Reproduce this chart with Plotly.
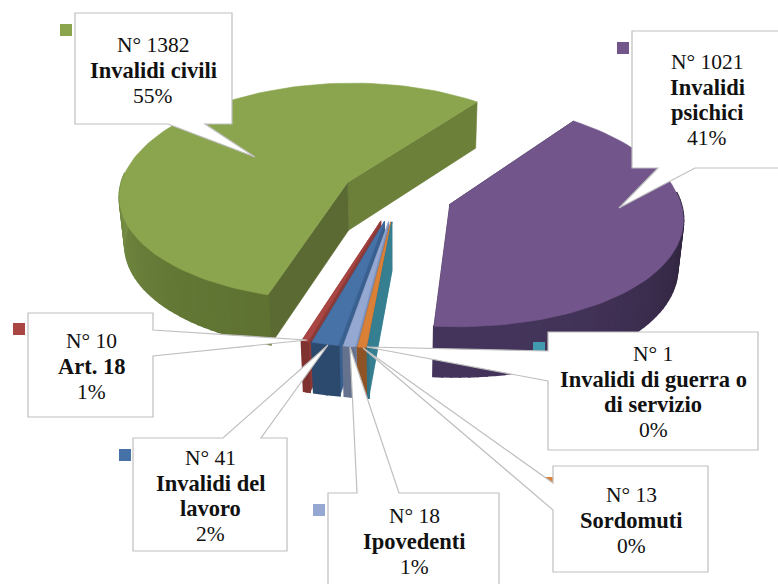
import math
import plotly.graph_objects as go

# data, in slice order (clockwise)
labels = ['Invalidi civili', 'Invalidi psichici', 'Invalidi di guerra o di servizio',
          'Sordomuti', 'Ipovedenti', 'Invalidi del lavoro', 'Art. 18']
counts = [1382, 1021, 1, 13, 18, 41, 10]
percents = ['55%', '41%', '0%', '0%', '1%', '2%', '1%']

# colours per slice: top, start side, end side, arc at the front, arc at the sides
top_colors = ['#8BA54E', '#72568B', '#338097', '#DA8137', '#94A8D2', '#4672A8', '#A94543']
start_colors = ['#5A6A32', '#2E2339', '#367F90', '#B56A2C', '#7C8FB9', '#3A6090', '#8C3A38']
end_colors = ['#6C8039', '#2E2339', '#367F90', '#8E5426', '#636F8B', '#2E4B6F', '#7E3230']
arc_light = ['#5E7131', '#45355C', '#2F7384', '#8E5426', '#66738F', '#2C4A6E', '#803331']
arc_dark = ['#748C44', '#2C2238', '#2F7384', '#8E5426', '#636F8B', '#2E4D72', '#7E3230']
key_colors = ['#8BA54E', '#72568B', '#419AB0', '#DA8137', '#94A8D2', '#4672A8', '#A94543']

# pie projection
FIRST_ANGLE = 197.0
CX, CY = 397, 194.5
A, B, P, PX = 229, 110, 0.0876, 0.112
EXPLODE = 0.245
DEPTH = 48
BOTTOM_SCALE = 0.98


def project(ax, ay, angle, r=1.0, scale=1.0, z=0):
    # ax, ay is the exploded apex, angle is clockwise from the back of the pie
    x = (ax + r * math.sin(math.radians(angle))) * scale
    y = (ay + r * math.cos(math.radians(angle))) * scale
    k = 1 / (1 + P * y)
    return CX + A * x / (1 + PX * y), CY - B * y * k + z * k


def mix(c1, c2, t):
    a = [int(c1[i:i + 2], 16) for i in (1, 3, 5)]
    b = [int(c2[i:i + 2], 16) for i in (1, 3, 5)]
    return 'rgb(%d,%d,%d)' % tuple(a[i] + (b[i] - a[i]) * t for i in range(3))


fig = go.Figure()


def poly(points, color, width=0.6):
    xs = [p[0] for p in points]
    ys = [p[1] for p in points]
    fig.add_trace(go.Scatter(x=xs + xs[:1], y=ys + ys[:1], mode='lines', fill='toself', fillcolor=color,
                             line=dict(color=color, width=width), hoverinfo='skip', showlegend=False))


def draw_slice(i, a0, a1):
    mid = (a0 + a1) / 2
    ax = EXPLODE * math.sin(math.radians(mid))
    ay = EXPLODE * math.cos(math.radians(mid))
    steps = max(2, int((a1 - a0) / 2))
    angles = [a0 + (a1 - a0) * s / steps for s in range(steps + 1)]

    for ang, col in ((a1, end_colors[i]), (a0, start_colors[i])):
        poly([project(ax, ay, ang, 0), project(ax, ay, ang),
              project(ax, ay, ang, scale=BOTTOM_SCALE, z=DEPTH), project(ax, ay, ang, 0, BOTTOM_SCALE, DEPTH)], col)

    for s in range(steps):
        c = math.cos(math.radians((angles[s] + angles[s + 1]) / 2))
        if c > 0.1:
            continue
        poly([project(ax, ay, angles[s]), project(ax, ay, angles[s + 1]),
              project(ax, ay, angles[s + 1], scale=BOTTOM_SCALE, z=DEPTH),
              project(ax, ay, angles[s], scale=BOTTOM_SCALE, z=DEPTH)],
             mix(arc_light[i], arc_dark[i], min(1, (c + 1) / 1.0)), width=2)

    poly([project(ax, ay, a0, 0)] + [project(ax, ay, a) for a in angles], top_colors[i])


total = sum(counts)
spans = []
angle = FIRST_ANGLE
for v in counts:
    spans.append((angle, angle + v / total * 360))
    angle += v / total * 360

# painter order: the two big slices, then the thin ones from left to right
for i in [0, 1, 6, 5, 4, 3, 2]:
    draw_slice(i, *spans[i])

BORDER = '#BFBFBF'

# callout boxes: x0, y0, x1, y1, pointer outline inserted on the box edge, text centre, first line y
boxes = [
    dict(i=0, box=(75, 13, 232, 124), side='bottom', ptr=[(205, 124), (255, 157), (168, 124)], tx=153, ty=45, lines=['Invalidi civili'], key=(60, 24)),
    dict(i=1, box=(632, 31, 790, 168), side='bottom', ptr=[(695, 168), (619, 208), (658, 168)], tx=707, ty=62, lines=['Invalidi', 'psichici'], key=(617, 42)),
    dict(i=2, box=(548, 332, 758, 450), side='left', ptr=[(548, 381), (367, 347), (548, 351)], tx=653, ty=354, lines=['Invalidi di guerra o', 'di servizio'], key=(533, 342)),
    dict(i=3, box=(553, 466, 708, 572), side='left', ptr=[(553, 510), (363, 348), (553, 483)], tx=631, ty=495, lines=['Sordomuti'], key=(545, 477)),
    dict(i=4, box=(328, 493, 499, 600), side='top', ptr=[(357, 493), (350, 347), (399, 493)], tx=414, ty=516, lines=['Ipovedenti'], key=(313, 504)),
    dict(i=5, box=(133, 438, 287, 551), side='top', ptr=[(223, 438), (328, 345), (261, 438)], tx=210, ty=458, lines=['Invalidi del', 'lavoro'], key=(119, 449)),
    dict(i=6, box=(28, 313, 153, 417), side='right', ptr=[(153, 330), (307, 340), (153, 356)], tx=91, ty=341, lines=['Art. 18'], key=(13, 323)),
]

FONT = 'Liberation Serif'
PITCH = 25.4
shapes = []
annotations = []


def line_text(x, y, text, size):
    annotations.append(dict(x=x, y=y, xref='x', yref='y', text=text, showarrow=False,
                            xanchor='center', yanchor='middle',
                            font=dict(family=FONT, size=size, color='#111111')))


for b in boxes:
    x0, y0, x1, y1 = b['box']
    # legend key sits under the box that follows it
    kx, ky = b['key']
    shapes.append(dict(type='rect', x0=kx, x1=kx + 12, y0=ky, y1=ky + 12, fillcolor=key_colors[b['i']],
                       line=dict(width=0), layer='above'))
    pts = [(x0, y0)]
    if b['side'] == 'top':
        pts += b['ptr']
    pts.append((x1, y0))
    if b['side'] == 'right':
        pts += b['ptr']
    pts.append((x1, y1))
    if b['side'] == 'bottom':
        pts += b['ptr']
    pts.append((x0, y1))
    if b['side'] == 'left':
        pts += b['ptr']
    path = 'M ' + ' L '.join('%g,%g' % p for p in pts) + ' Z'
    shapes.append(dict(type='path', path=path, fillcolor='white', line=dict(color=BORDER, width=1.2), layer='above'))

    y = b['ty']
    line_text(b['tx'], y, 'N° %d' % counts[b['i']], 21.5)
    for t in b['lines']:
        y += PITCH
        line_text(b['tx'], y, '<b>%s</b>' % t, 22.5)
    line_text(b['tx'], y + PITCH, percents[b['i']], 21.5)

fig.update_layout(width=778, height=584, margin=dict(l=0, r=0, t=0, b=0), paper_bgcolor='white', plot_bgcolor='white',
                  showlegend=False, shapes=shapes, annotations=annotations,
                  xaxis=dict(range=[0, 778], visible=False, fixedrange=True),
                  yaxis=dict(range=[584, 0], visible=False, fixedrange=True))

fig.write_html("out.html", config=dict(displayModeBar=False),
               post_script="document.body.style.margin='0';document.body.style.overflow='hidden';")
